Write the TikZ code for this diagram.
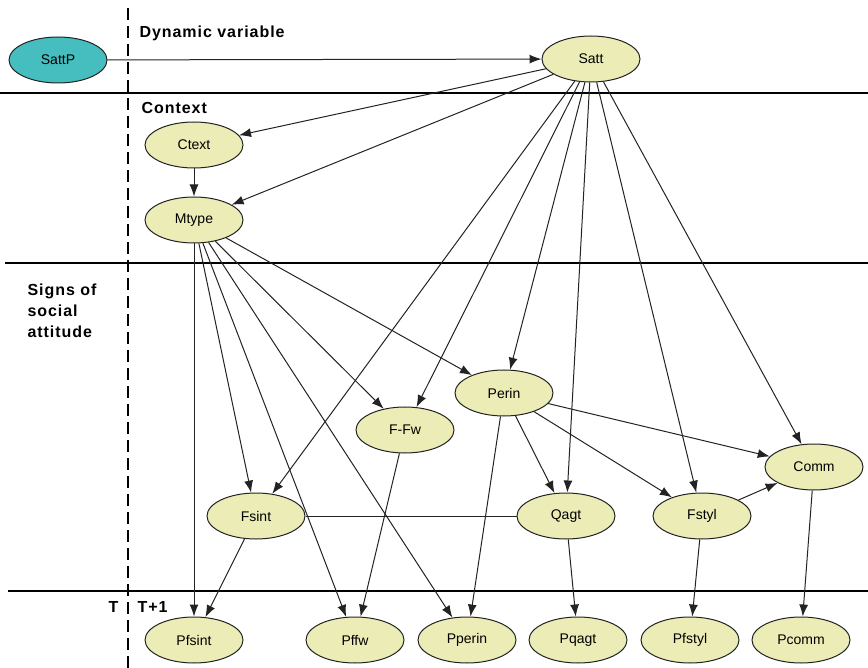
\documentclass[tikz,border=0pt]{standalone}
\usepackage{fontspec}
\setmainfont{Liberation Sans}
\usetikzlibrary{arrows.meta,shapes.geometric}
\definecolor{nodefill}{RGB}{236,236,182}
\definecolor{dynfill}{RGB}{70,190,192}
\definecolor{edgegray}{RGB}{35,35,35}
\begin{document}
\begin{tikzpicture}[x=1pt,y=-1pt,
  var/.style={ellipse,draw=edgegray,line width=1pt,fill=nodefill,
    minimum width=98pt,minimum height=46pt,inner sep=0pt,
    font=\fontsize{14}{16}\selectfont},
  dynvar/.style={var,fill=dynfill},
  link/.style={line width=1pt,draw=edgegray,-{Latex[length=12pt,width=9pt]}},
  plainlink/.style={line width=1pt,draw=edgegray},
  sep/.style={line width=1.8pt,black},
  timesep/.style={line width=1.4pt,black,dash pattern=on 12pt off 6pt},
  zone/.style={font=\fontsize{16}{21}\selectfont\bfseries\addfontfeature{LetterSpace=6},anchor=west,align=left}]
\useasboundingbox (0,0) rectangle (868,668);

% band separators and the time slice boundary
\draw[sep] (0,93) -- (868,93);
\draw[sep] (5,263) -- (868,263);
\draw[sep] (8,591) -- (868,591);
\draw[timesep] (128,8) -- (128,668);

% band titles
\node[zone] (ldyn) at (136,33) {Dynamic variable};
\node[zone] (lctx) at (138,108) {Context};
\node[zone,anchor=north west] (lsig) at (24,280) {Signs of\\social\\attitude};
\node[zone,anchor=east] (lt) at (122,607) {T};
\node[zone] (lt1) at (134,607) {T+1};

% variables
\node[dynvar] (sattp) at (58,60) {SattP};
\node[var] (satt) at (591,59) {Satt};
\node[var] (ctext) at (194,145) {Ctext};
\node[var] (mtype) at (194,220) {Mtype};
\node[var] (perin) at (504,393) {Perin};
\node[var] (ffw) at (405,430) {F-Fw};
\node[var] (fsint) at (256,516) {Fsint};
\node[var] (qagt) at (566,516) {Qagt};
\node[var] (fstyl) at (702,516) {Fstyl};
\node[var] (comm) at (814,467) {Comm};
\node[var] (pfsint) at (194,640) {Pfsint};
\node[var] (pffw) at (355,640) {Pffw};
\node[var] (pperin) at (467,640) {Pperin};
\node[var] (pqagt) at (578,640) {Pqagt};
\node[var] (pfstyl) at (690,640) {Pfstyl};
\node[var] (pcomm) at (801,640) {Pcomm};

% dependencies
\draw[link] (sattp) -- (satt);
\foreach \t in {ctext,mtype,fsint,ffw,perin,qagt,fstyl,comm}
  \draw[link] (satt) -- (\t);
\draw[link] (ctext) -- (mtype);
\foreach \t in {pfsint,fsint,pffw,pperin,ffw,perin}
  \draw[link] (mtype) -- (\t);
\foreach \t in {comm,fstyl,qagt,pperin}
  \draw[link] (perin) -- (\t);
\draw[plainlink] (fsint) -- (qagt);
\draw[link] (fsint) -- (pfsint);
\draw[link] (ffw) -- (pffw);
\draw[link] (qagt) -- (pqagt);
\draw[link] (fstyl) -- (pfstyl);
\draw[link] (fstyl) -- (comm);
\draw[link] (comm) -- (pcomm);
\end{tikzpicture}
\end{document}
